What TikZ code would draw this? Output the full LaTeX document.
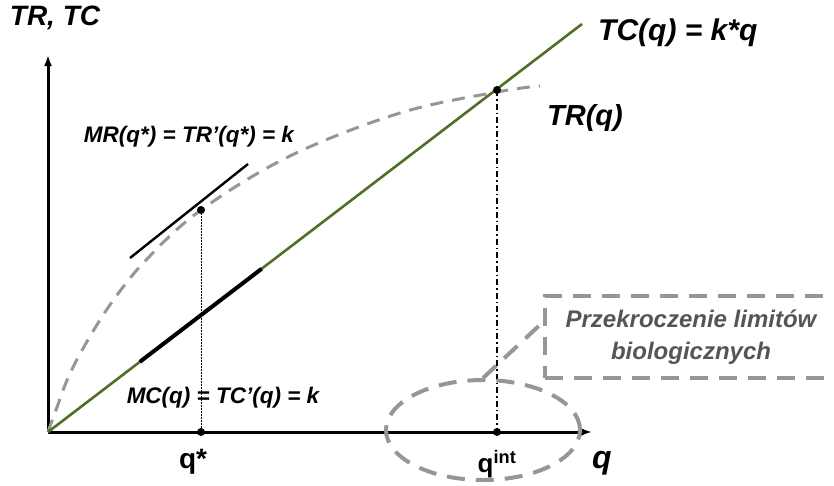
\documentclass[tikz,border=0pt]{standalone}
\usepackage{fontspec}
\setmainfont{Liberation Sans}
\usetikzlibrary{arrows.meta, positioning, calc, shapes.geometric}
\definecolor{tcgreen}{RGB}{79,111,40}
\definecolor{dashgray}{RGB}{150,150,150}
\definecolor{notegray}{RGB}{85,85,85}

\begin{document}
\begin{tikzpicture}[
		x=1pt, y=-1pt,
		axis/.style={line width=3pt, -{Latex[length=11pt, width=8pt]}},
		tcline/.style={draw=tcgreen, line width=2.6pt},
		trcurve/.style={draw=dashgray, line width=3pt, dash pattern=on 13pt off 9pt},
		tangent/.style={draw=black, line width=2.4pt},
		mcseg/.style={draw=black, line width=4pt},
		dot/.style={circle, fill=black, inner sep=0pt, minimum size=8pt},
		guide/.style={draw=black, line width=1pt, dash pattern=on 1.5pt off 1.5pt},
		guideint/.style={draw=black, line width=1.4pt, dash pattern=on 6pt off 3pt on 1.5pt off 3pt},
		limit/.style={ellipse, draw=dashgray, line width=4pt, dash pattern=on 18pt off 11pt, minimum width=194pt, minimum height=100pt, inner sep=0pt},
		note/.style={rectangle, draw=dashgray, line width=4pt, dash pattern=on 18pt off 11pt, minimum width=330pt, minimum height=82pt, anchor=west},
		notetext/.style={align=center, inner sep=0pt, text=notegray, font=\fontsize{24}{32}\selectfont\bfseries\itshape},
		callout/.style={draw=dashgray, line width=4pt, dash pattern=on 18pt off 11pt},
		curvelbl/.style={inner sep=0pt, font=\fontsize{29}{31}\selectfont\bfseries\itshape},
		eqlbl/.style={inner sep=0pt, font=\fontsize{22.5}{25}\selectfont\bfseries\itshape},
		qlbl/.style={inner sep=0pt, font=\fontsize{26}{28}\selectfont\bfseries}
	]
	\useasboundingbox (0,0) rectangle (834,485);

	% 1. Sumbu dan titik acuan
	\coordinate (O) at (48,432);
	\coordinate (ytip) at (48,55);
	\coordinate (xtip) at (592,432);
	\coordinate (tcend) at (582,24);
	\coordinate (qstar) at (201,432);
	\coordinate (qint) at (497,432);
	\coordinate (tang) at (201,210);
	\coordinate (cross) at (497,90);

	\draw[axis] (O) -- (ytip);
	\draw[axis] (O) -- (xtip);

	% 2. Kurva TR (putus-putus) dan garis TC
	\draw[trcurve] plot[smooth, tension=0.6] coordinates {(48,432) (56,410) (68,378) (85,345) (112,302) (147,259) (201,210) (290,156) (400,113) (497,92) (540,86)};
	\draw[tcline] (O) -- (tcend);

	% 3. Garis singgung MR dan potongan MC
	\coordinate (tanga) at (130,258);
	\coordinate (tangb) at (248,164);
	\draw[tangent] (tanga) -- (tangb);
	\draw[mcseg] ($(O)!0.172!(tcend)$) -- ($(O)!0.4!(tcend)$);

	% 4. Garis bantu vertikal dan titik
	\draw[guide] (tang) -- (qstar);
	\draw[guideint] (cross) -- (qint);
	\node[dot] (qstardot) at (qstar) {};
	\node[dot] (qintdot) at (qint) {};
	\node[dot] (tangdot) at (tang) {};
	\node[dot] (crossdot) at (cross) {};

	% 5. Elips dan kotak keterangan
	\node[limit] (limit) at (483,430) {};
	\node[note] (note) at (543,337) {};
	\node[notetext] (notetxt) at (691,337) {Przekroczenie limitów\\biologicznych};
	\draw[callout] (limit.north) -- ($(note.west)+(0pt,15pt)$);

	% 6. Label
	\node[curvelbl, font=\fontsize{28}{30}\selectfont\bfseries\itshape] (ylbl) at (55,18) {TR, TC};
	\node[curvelbl, anchor=west, font=\fontsize{30}{32}\selectfont\bfseries\itshape] (tclbl) at (598,33) {TC(q) = k*q};
	\node[curvelbl] (trlbl) at (585,118) {TR(q)};
	\node[eqlbl] (mrlbl) at (189,137) {MR(q*) = TR’(q*) = k};
	\node[eqlbl] (mclbl) at (223,398) {MC(q) = TC’(q) = k};
	\node[qlbl, font=\fontsize{28}{30}\selectfont\bfseries, below=17pt of qstar, xshift=-8pt] (qstarlbl) {q*};
	\node[qlbl, below=18pt of qint] (qintlbl) {q\textsuperscript{int}};
	\node[curvelbl, font=\fontsize{32}{34}\selectfont\bfseries\itshape] (xlbl) at (602,463) {q};

\end{tikzpicture}
\end{document}
